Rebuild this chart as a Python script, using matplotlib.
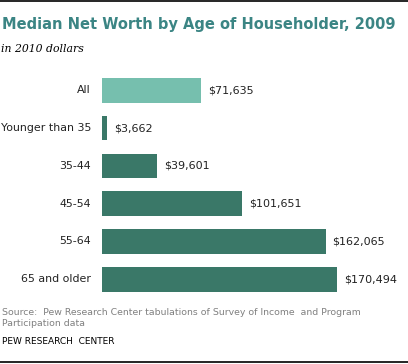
import matplotlib.pyplot as plt
from matplotlib.lines import Line2D

categories = ['All', 'Younger than 35', '35-44', '45-54', '55-64', '65 and older']
net_worth = [71635, 3662, 39601, 101651, 162065, 170494]
value_labels = ['$71,635', '$3,662', '$39,601', '$101,651', '$162,065', '$170,494']

light_teal = '#76bfae'
dark_teal = '#3a7868'
colors = [light_teal] + [dark_teal] * 5

W, H = 408, 364
fig = plt.figure(figsize=(W / 100, H / 100), dpi=100)

# axes placed in pixel terms: bars start at x=102, rows 37.8 px apart
ax = fig.add_axes([102 / W, 1 - 298.2 / H, 298 / W, 226.8 / H])
y = list(range(len(categories)))
ax.barh(y, net_worth, height=0.65, color=colors)
ax.set_xlim(0, 216000)
ax.set_ylim(len(categories) - 0.5, -0.5)
ax.axis('off')

px = 216000 / 298
for i, (v, lab) in enumerate(zip(net_worth, value_labels)):
    ax.text(v + 7 * px, i, lab, va='center', ha='left', fontsize=8, color='#222222')
    ax.text(-11 * px, i, categories[i], va='center', ha='right', fontsize=7.9, color='#222222')

fig.text(2 / W, 1 - 24 / H, 'Median Net Worth by Age of Householder, 2009',
         fontsize=10.5, fontweight='bold', color='#3b8584', va='center', ha='left')
fig.text(1 / W, 1 - 49 / H, 'in 2010 dollars', fontsize=7.8, style='italic',
         family='DejaVu Serif', va='center', ha='left', color='black')

fig.text(2 / W, 1 - 312.7 / H, 'Source:  Pew Research Center tabulations of Survey of Income  and Program',
         fontsize=6.75, color='#808080', va='center', ha='left')
fig.text(2 / W, 1 - 323.7 / H, 'Participation data', fontsize=6.75, color='#808080', va='center', ha='left')
fig.text(2 / W, 1 - 341.7 / H, 'PEW RESEARCH  CENTER', fontsize=6.5, color='black', va='center', ha='left')

fig.add_artist(Line2D([0, 1], [1 - 1.2 / H, 1 - 1.2 / H], color='black', lw=1.2))
fig.add_artist(Line2D([0, 1], [1 - 362.4 / H, 1 - 362.4 / H], color='black', lw=1.2))

fig.savefig('out.png', dpi=100, facecolor='white')
